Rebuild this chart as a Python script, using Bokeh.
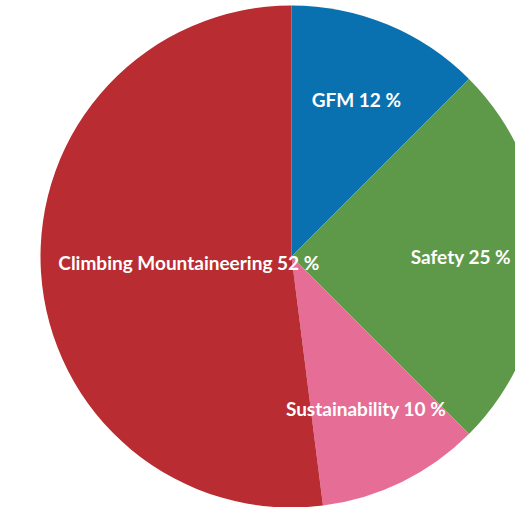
import math
from bokeh.plotting import figure
from bokeh.models import Range1d, ColumnDataSource
from bokeh.core.properties import value
from bokeh.embed import file_html
from bokeh.resources import INLINE

categories = ["GFM", "Safety", "Sustainability", "Climbing Mountaineering"]
shares = [12.5, 25.0, 10.5, 52.0]
label_pcts = ["12 %", "25 %", "10 %", "52 %"]
colors = ["#0a71b0", "#5e994a", "#e56d96", "#b92c31"]

W, H = 515, 507
cx, cy = 291, 256   # pie centre in plot pixels
R = 251

p = figure(width=W, height=H, output_backend="svg", toolbar_location=None,
           x_range=Range1d(-cx, W - cx), y_range=Range1d(-(H - cy), cy),
           min_border=0, outline_line_color=None)
p.axis.visible = False
p.grid.visible = False
p.background_fill_color = "white"
p.border_fill_color = "white"

total = sum(shares)
starts, ends, lx, ly, texts = [], [], [], [], []
acc = 0.0
big = shares.index(max(shares))
for i, (c, s, t) in enumerate(zip(categories, shares, label_pcts)):
    a0 = acc / total * 2 * math.pi
    acc += s
    a1 = acc / total * 2 * math.pi
    starts.append(math.pi / 2 - a0)
    ends.append(math.pi / 2 - a1)
    mid = (a0 + a1) / 2
    rr = R * (0.41 if i == big else 0.675)
    lx.append(rr * math.sin(mid))
    ly.append(rr * math.cos(mid))
    texts.append(f"{c} {t}")

src = ColumnDataSource(dict(start=starts, end=ends, color=colors,
                            x=[0] * len(shares), y=[0] * len(shares)))
p.wedge(x="x", y="y", radius=R, start_angle="start", end_angle="end",
        direction="clock", fill_color="color", line_color=None, source=src)

lsrc = ColumnDataSource(dict(x=lx, y=ly, text=texts))
p.text(x="x", y="y", text="text", source=lsrc, text_color="white",
       text_font=value("Lato"), text_font_style="bold", text_font_size="19px",
       text_align="center", text_baseline="middle")

open("out.html", "w").write(file_html(p, INLINE))
